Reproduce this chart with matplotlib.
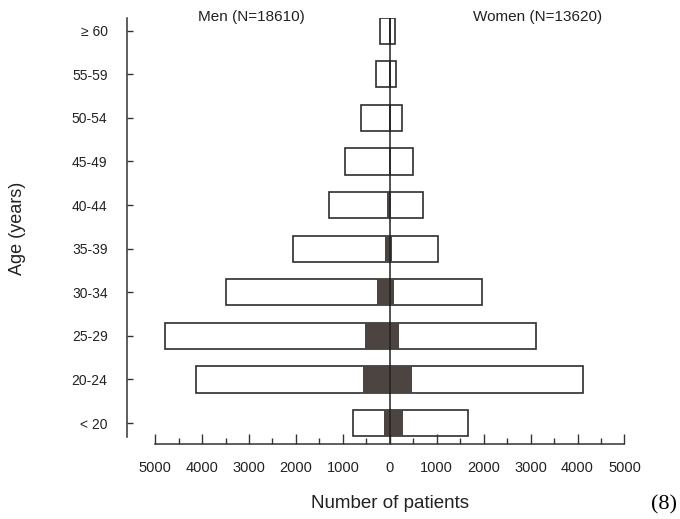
import numpy as np
import matplotlib
matplotlib.use("Agg")
import matplotlib.pyplot as plt
from matplotlib.ticker import FixedLocator

# age groups, bottom to top
ages = ["< 20", "20-24", "25-29", "30-34", "35-39",
        "40-44", "45-49", "50-54", "55-59", "\u2265 60"]
men_total   = [790, 4130, 4780, 3500, 2065, 1290, 950, 615, 305, 205]
women_total = [1665, 4110, 3120, 1955, 1035, 705, 495, 250, 140, 120]
men_sub     = [130, 580, 530, 270, 110, 60, 20, 0, 0, 0]
women_sub   = [280, 470, 200, 90, 40, 10, 0, 0, 0, 0]
xticks      = np.arange(-5000, 5001, 1000)
xminor      = np.arange(-4500, 4501, 1000)

plt.rcParams['font.family'] = ['Liberation Sans', 'DejaVu Sans']

W, H = 680, 519
fig = plt.figure(figsize=(W / 100, H / 100), dpi=100)
# axes box in pixels: left 127, right 655, top 18, bottom 444
ax = fig.add_axes([127 / W, 1 - 444 / H, (655 - 127) / W, (444 - 18) / H])

y = np.arange(len(ages))
m = np.array(men_total)
w = np.array(women_total)
ms = np.array(men_sub)
ws = np.array(women_sub)

edge = '#2e2e2e'
ax.barh(y, m, left=-m, height=0.6, facecolor='white', edgecolor=edge, lw=1.2)
ax.barh(y, w, left=0, height=0.6, facecolor='white', edgecolor=edge, lw=1.2)
ax.barh(y, ms, left=-ms, height=0.6, color='#4b4440', lw=0)
ax.barh(y, ws, left=0, height=0.6, color='#4b4440', lw=0)
ax.axvline(0, color='#222', lw=1.1)

ax.set_xlim(-5600, 5650)
ax.set_ylim(-0.48, 9.29)

for sp in ['top', 'right']:
    ax.spines[sp].set_visible(False)
ax.spines['left'].set_bounds(-0.32, 9.29)
ax.spines['bottom'].set_bounds(-5000, 5000)
for sp in ['left', 'bottom']:
    ax.spines[sp].set_color('#333')
    ax.spines[sp].set_linewidth(1.1)

ax.set_yticks(y)
ax.set_yticklabels(ages)
ax.set_xticks(xticks)
ax.set_xticklabels([str(abs(v)) for v in xticks])
ax.xaxis.set_minor_locator(FixedLocator(xminor))
ax.tick_params(axis='y', direction='in', length=4, width=1, pad=14,
               labelsize=10, colors='#333', labelcolor='#222')
ax.tick_params(axis='x', which='major', direction='in', length=7, width=1,
               pad=12, labelsize=10.5, colors='#333', labelcolor='#222')
ax.tick_params(axis='x', which='minor', direction='in', length=4, width=1,
               colors='#333')

fig.text(251 / W, 1 - 17 / H, "Men (N=18610)", ha='center', va='center',
         fontsize=11, color='#222')
fig.text(538 / W, 1 - 17 / H, "Women (N=13620)", ha='center', va='center',
         fontsize=11, color='#222')
fig.text(390 / W, 1 - 503 / H, "Number of patients", ha='center',
         va='center', fontsize=13.5, color='#222')
fig.text(18 / W, 1 - 228 / H, "Age (years)", ha='center', va='center',
         rotation=90, fontsize=13, color='#222')
fig.text(664 / W, 1 - 505 / H, "(8)", ha='center', va='center',
         fontsize=16, family='Liberation Serif', color='black')

fig.savefig("out.png", dpi=100, facecolor='white')
